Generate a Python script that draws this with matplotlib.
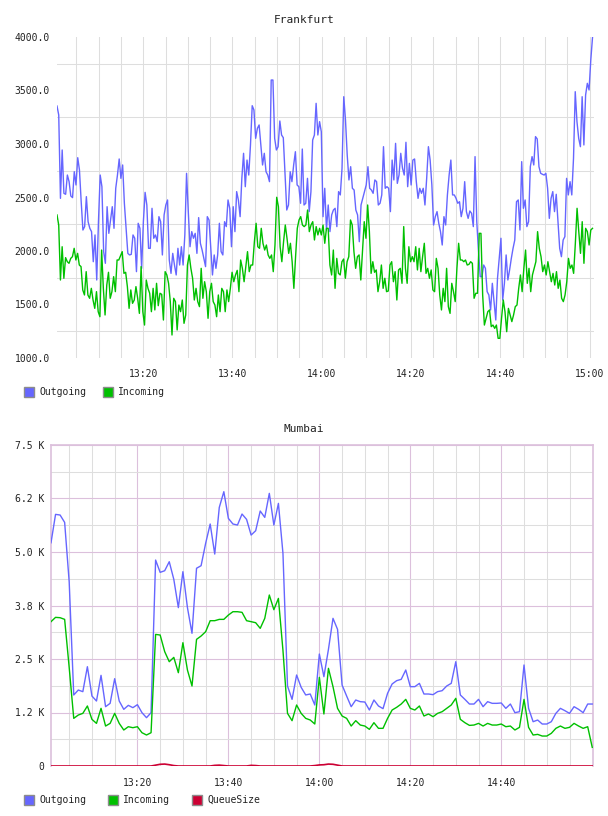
import numpy as np
import pandas as pd
import matplotlib
matplotlib.use("Agg")
import matplotlib.pyplot as plt
import matplotlib.dates as mdates
from matplotlib.patches import Rectangle

plt.rcParams["font.family"] = ["DejaVu Sans Mono"]

DAY = "2014-01-01 "

# ---- Frankfurt (sampled roughly every 25 s) ----
fra_start, fra_end = "13:00:41", "15:00:40"
fra_out = [
    3355, 3271, 2492, 2944, 2539, 2530, 2710, 2648, 2514, 2499, 2741, 2617, 2872, 2757, 2461, 2196,
    2228, 2508, 2274, 2212, 2181, 1900, 2150, 1729, 2274, 2710, 2601, 1994, 1885, 2414, 2165, 2290,
    2414, 2212, 2586, 2710, 2860, 2679, 2804, 2446, 2212, 1978, 1963, 1969, 2150, 2119, 1807, 2259,
    2212, 1838, 2274, 2548, 2430, 2025, 2025, 2399, 2119, 2150, 2087, 2321, 2274, 1963, 2337, 2430,
    2477, 1916, 1791, 1978, 1869, 1776, 2025, 1869, 2040, 1869, 2150, 2726, 2368,
    2040, 2181, 2119, 2165, 1978, 2312, 2072, 2009, 1931, 1854, 2321, 2290, 2025, 1776, 1963, 1838,
    1963, 2259, 1994, 1963, 2274, 2228, 2477, 2399, 2040, 2414, 2181, 2555, 2477, 2321, 2679, 2913,
    2601, 2850, 2710, 2991, 3358, 3318, 3053, 3146, 3178, 2991, 2804, 2913, 2741, 2710, 2648, 3598,
    3598, 3053, 2944, 2975, 3215, 3084, 3059, 2710, 2383, 2430, 2741, 2648, 2804, 2928, 2617, 2601,
    2446, 2953, 2430, 2446, 2679, 2368, 2555, 3037, 3084, 3380, 3084, 3209, 3115,
    2321, 2586, 2196, 2430, 2181, 2337, 2383, 2399, 2228, 2555, 2524, 2773, 3442, 3224, 2897, 2664,
    2788, 2586, 2570, 2383, 2337, 2087, 2430, 2492, 2555, 2617, 2788, 2586, 2570, 2539, 2664, 2648,
    2430, 2446, 2524, 2975, 2586, 2601, 2586, 2368, 2850, 2664, 3006, 2632, 2710, 2913, 2773, 2710,
    3016, 2601, 2819, 2617, 2850, 2860, 2648, 2492, 2586, 2539, 2586, 2430, 2679, 2975, 2850, 2617,
    2243, 2321, 2368, 2259, 2181, 2056, 2321, 2243, 2524, 2710, 2850, 2524,
    2524, 2492, 2446, 2461, 2321, 2399, 2648, 2368, 2305, 2374, 2352, 2228, 2882, 2274, 1994, 1760,
    1760, 1869, 1838, 1620, 1589, 1449, 1698, 1527, 1355, 1745, 1931, 2119, 1542, 1698, 1963, 1729,
    1823, 1931, 2025, 2103, 2461, 2477, 2196, 2835, 2399, 2477, 2228, 2274, 2788, 2882, 2804, 3069,
    3047, 2788, 2726, 2717, 2710, 2726, 2586, 2305, 2492, 2555, 2368, 2530, 2274, 2025, 1947, 2103,
    2134, 2679, 2524, 2648, 2524, 2866, 3489, 3209, 3053, 2975, 3442, 2991, 3458, 3567, 3505, 3785,
    3995,
]
fra_in = [
    2337, 2243, 1729, 2040, 1745, 1938, 1900, 1885, 1931, 1947, 2025, 1916, 1978, 1869, 1854, 1636,
    1589, 1807, 1589, 1558, 1651, 1542, 1464, 1620, 1433, 1386, 2009, 1651, 1402, 1682, 1801, 1558,
    1620, 1760, 1620, 1916, 1916, 1956, 1994, 1791, 1801, 1667, 1464, 1636, 1511, 1542, 1667, 1558,
    1417, 1854, 1433, 1308, 1729, 1651, 1605, 1433, 1651, 1449, 1698, 1489, 1605, 1595, 1355, 1807,
    1776, 1698, 1527, 1215, 1558, 1527, 1262, 1495, 1433, 1542, 1324, 1402, 1869, 1963, 1838,
    1745, 1542, 1651, 1527, 1480, 1838, 1558, 1713, 1620, 1371, 1620, 1698, 1527, 1495, 1386, 1589,
    1433, 1651, 1620, 1433, 1636, 1527, 1651, 1801, 1713, 1776, 1819, 1620, 1916, 1838, 1713, 1854,
    1994, 1807, 1869, 1869, 2087, 2259, 2040, 2025, 2212, 2072, 2009, 2056, 1963, 1931, 1963, 1807,
    2056, 2502, 2414, 2040, 1900, 2087, 2243, 2119, 1978, 2072, 1900, 1651, 1947, 2212, 2290, 2321,
    2243, 2228, 2243, 2383, 2181, 2243, 2274, 2103, 2228, 2150, 2212, 2150, 2243, 2072, 2212,
    2212, 1869, 1776, 2009, 1651, 1931, 1791, 1776, 1900, 1925, 1745, 1900, 1947, 2290, 2243, 1994,
    1838, 1947, 1963, 1729, 1994, 2274, 2119, 2430, 2181, 1791, 1900, 1801, 1823, 1620, 1713, 1869,
    1651, 1745, 1620, 1626, 1869, 1900, 1713, 1807, 1542, 1823, 1838, 1698, 2228, 1838, 1698, 2040,
    1900, 1947, 1900, 2040, 1823, 2025, 1807, 1947, 2072, 1791, 1838, 1745, 1823, 1636, 1620, 1931,
    1838, 1589, 1449, 1651, 1527, 1838, 1480, 1417, 1698, 1620, 1527, 1838, 2072, 1916, 1916,
    1900, 1916, 1869, 1875, 1900, 1885, 1558, 1605, 1605, 2165, 2165, 1589, 1308, 1371, 1433, 1449,
    1293, 1308, 1277, 1308, 1184, 1184, 1371, 1542, 1433, 1246, 1464, 1402, 1340, 1402, 1480, 1495,
    1651, 1776, 1620, 1838, 2009, 1698, 1838, 1620, 1776, 1838, 1900, 2181, 2025, 1947, 1807, 1869,
    1776, 1900, 1807, 1713, 1791, 1682, 1807, 1651, 1729, 1558, 1527, 1589, 1713, 1931, 1838, 1869,
    1791, 2072, 2399, 2181, 1978, 2274, 1885, 2212, 2181, 2056, 2196, 2212,
]
fra_xlabels = ["13:20", "13:40", "14:00", "14:20", "14:40", "15:00"]
fra_yticks = [1000, 1500, 2000, 2500, 3000, 3500, 4000]

# ---- Mumbai (one sample per minute) ----
mum_start = "13:01"
mum_out = [
    5216, 5879, 5864, 5692, 4300, 1659, 1775, 1737, 2320, 1635, 1518, 2118, 1386, 1464, 2040, 1518,
    1324, 1417, 1363, 1433, 1246, 1129, 1246, 4812, 4524, 4563, 4773, 4361, 3700, 4540, 3700, 3100,
    4620, 4680, 5202, 5654, 4952, 6042, 6409, 5785, 5654, 5630, 5887, 5762, 5396, 5497, 5957, 5809,
    6370, 5630, 6136, 4968, 1869, 1557, 2126, 1838, 1660, 1682, 1425, 2616, 2087, 2725, 3450, 3193,
    1892, 1635, 1386, 1542, 1503, 1495, 1308, 1542, 1402, 1340, 1698, 1916, 1994, 2025, 2243, 1854,
    1854, 1931, 1682, 1682, 1667, 1737, 1760, 1869, 1931, 2437, 1659, 1557, 1448, 1448, 1557, 1386,
    1503, 1464, 1464, 1472, 1347, 1448, 1246, 1269, 2360, 1347, 1035, 1074, 981, 981, 1035, 1230,
    1347, 1292, 1230, 1386, 1324, 1246, 1448, 1448,
]
mum_in = [
    3372, 3473, 3465, 3426, 2300, 1113, 1191, 1230, 1402, 1090, 996, 1347, 934, 996, 1230, 996,
    841, 918, 895, 918, 778, 724, 778, 3075, 3060, 2671, 2437, 2538, 2180, 2881, 2242, 1869,
    2959, 3037, 3138, 3395, 3395, 3426, 3426, 3527, 3605, 3605, 3590, 3395, 3372, 3348, 3216, 3450,
    3995, 3652, 3916, 2700, 1230, 1059, 1425, 1230, 1113, 1074, 981, 2072, 1215, 2282, 1854, 1347,
    1168, 1113, 934, 1059, 957, 934, 856, 1012, 880, 880, 1113, 1308, 1371, 1448, 1557, 1347,
    1308, 1402, 1168, 1215, 1152, 1230, 1269, 1347, 1425, 1581, 1090, 1012, 949, 957, 996, 934,
    996, 957, 957, 981, 918, 934, 841, 903, 1557, 903, 724, 739, 700, 700, 763, 880,
    934, 880, 903, 996, 934, 880, 918, 436,
]
mum_queue = [
    0, 0, 0, 0, 0, 0, 0, 0, 0, 0, 0, 0, 0, 0, 0, 0,
    0, 0, 0, 0, 0, 0, 0, 20, 40, 45, 30, 10, 0, 0, 0, 0,
    0, 0, 0, 0, 15, 20, 10, 0, 0, 0, 0, 0, 15, 10, 0, 0,
    0, 0, 0, 0, 0, 0, 0, 0, 0, 0, 10, 25, 30, 45, 40, 20,
    0, 0, 0, 0, 0, 0, 0, 0, 0, 0, 0, 0, 0, 0, 0, 0,
    0, 0, 0, 0, 0, 0, 0, 0, 0, 0, 0, 0, 0, 0, 0, 0,
    0, 0, 0, 0, 0, 0, 0, 0, 0, 0, 0, 0, 0, 0, 0, 0,
    0, 0, 0, 0, 0, 0, 0, 0,
]
mum_xlabels = ["13:20", "13:40", "14:00", "14:20", "14:40"]
mum_yticks = [0, 1250, 2500, 3750, 5000, 6250, 7500]

BLUE, GREEN, RED = "#6666ff", "#00c000", "#cc0033"
GRID, PURPLE = "#dedede", "#dcc0dc"
W, H = 608, 816


def fig_xy(x, y):
    return x / W, 1 - y / H


def tick_times(labels):
    return [pd.Timestamp(DAY + s) for s in labels]


def legend(fig, items, ypix):
    for xpix, name, col in items:
        x0, y0 = fig_xy(xpix, ypix + 5)
        fig.add_artist(Rectangle((x0, y0), 10 / W, 10 / H, transform=fig.transFigure,
                                 facecolor=col, edgecolor="#8c8c8c", lw=1.0))
        tx, ty = fig_xy(xpix + 15, ypix)
        fig.text(tx, ty, name, fontsize=7, va="center", ha="left", color="#222222")


fig = plt.figure(figsize=(W / 100, H / 100), dpi=100)

# ---------------- Frankfurt ----------------
ax1 = fig.add_axes([57 / W, 1 - 358 / H, 537 / W, 321 / H])
t_out = pd.date_range(DAY + fra_start, DAY + fra_end, periods=len(fra_out))
t_in = pd.date_range(DAY + fra_start, DAY + fra_end, periods=len(fra_in))
ax1.plot(t_out, fra_out, color=BLUE, lw=1.0, zorder=3)
ax1.plot(t_in, fra_in, color=GREEN, lw=1.0, zorder=3)
ax1.set_xlim(pd.Timestamp(DAY + fra_start), pd.Timestamp(DAY + "15:01"))
ax1.set_ylim(fra_yticks[0], fra_yticks[-1])
ax1.set_yticks(fra_yticks)
ax1.set_yticklabels([f"{v:.1f}" for v in fra_yticks])
ax1.set_yticks(np.array(fra_yticks[:-1]) + 250, minor=True)
ax1.set_xticks(tick_times(fra_xlabels))
ax1.set_xticklabels(fra_xlabels)
ax1.xaxis.set_minor_locator(mdates.MinuteLocator(byminute=range(0, 60, 5)))
ax1.grid(True, which="minor", color=GRID, lw=0.75, zorder=0)
ax1.grid(True, which="major", axis="x", color=GRID, lw=0.75, zorder=0)
for s in ax1.spines.values():
    s.set_visible(False)
ax1.tick_params(which="both", length=0, labelsize=7, colors="#222222")
ax1.tick_params(axis="y", pad=5)
ax1.tick_params(axis="x", pad=8)
fig.text(304 / W, 1 - 20 / H, "Frankfurt", fontsize=8, ha="center", va="center", color="#222222")
legend(fig, [(24, "Outgoing", BLUE), (103, "Incoming", GREEN)], 392)

# ---------------- Mumbai ----------------
ax2 = fig.add_axes([51 / W, 1 - 766 / H, 542 / W, 321 / H])
t_m = pd.date_range(DAY + mum_start, periods=len(mum_out), freq="1min")
ax2.plot(t_m, mum_out, color=BLUE, lw=1.0, zorder=3)
ax2.plot(t_m, mum_in, color=GREEN, lw=1.0, zorder=3)
ax2.plot(t_m, mum_queue, color=RED, lw=1.2, zorder=4)
ax2.set_xlim(t_m[0], t_m[-1] + pd.Timedelta(seconds=10))
ax2.set_ylim(mum_yticks[0], mum_yticks[-1])
ax2.set_yticks(mum_yticks)
ax2.set_yticklabels(["0" if v == 0 else f"{v / 1000:.1f} K" for v in mum_yticks])
ax2.set_yticks(np.array(mum_yticks[:-1]) + 625, minor=True)
ax2.set_xticks(tick_times(mum_xlabels))
ax2.set_xticklabels(mum_xlabels)
ax2.xaxis.set_minor_locator(mdates.MinuteLocator(byminute=[5, 10, 15, 25, 30, 35, 45, 50, 55]))
ax2.grid(True, which="minor", color=GRID, lw=0.75, zorder=0)
ax2.grid(True, which="major", color=PURPLE, lw=0.8, zorder=1)
for side in ["left", "top", "right"]:
    ax2.spines[side].set_color(PURPLE)
    ax2.spines[side].set_linewidth(1.2)
ax2.spines["bottom"].set_visible(False)
ax2.tick_params(which="both", length=0, labelsize=7, colors="#222222")
ax2.tick_params(axis="y", pad=5)
ax2.tick_params(axis="x", pad=9)
fig.text(304 / W, 1 - 429 / H, "Mumbai", fontsize=8, ha="center", va="center", color="#222222")
legend(fig, [(24, "Outgoing", BLUE), (108, "Incoming", GREEN), (192, "QueueSize", RED)], 800)

fig.savefig("out.png", dpi=100)
